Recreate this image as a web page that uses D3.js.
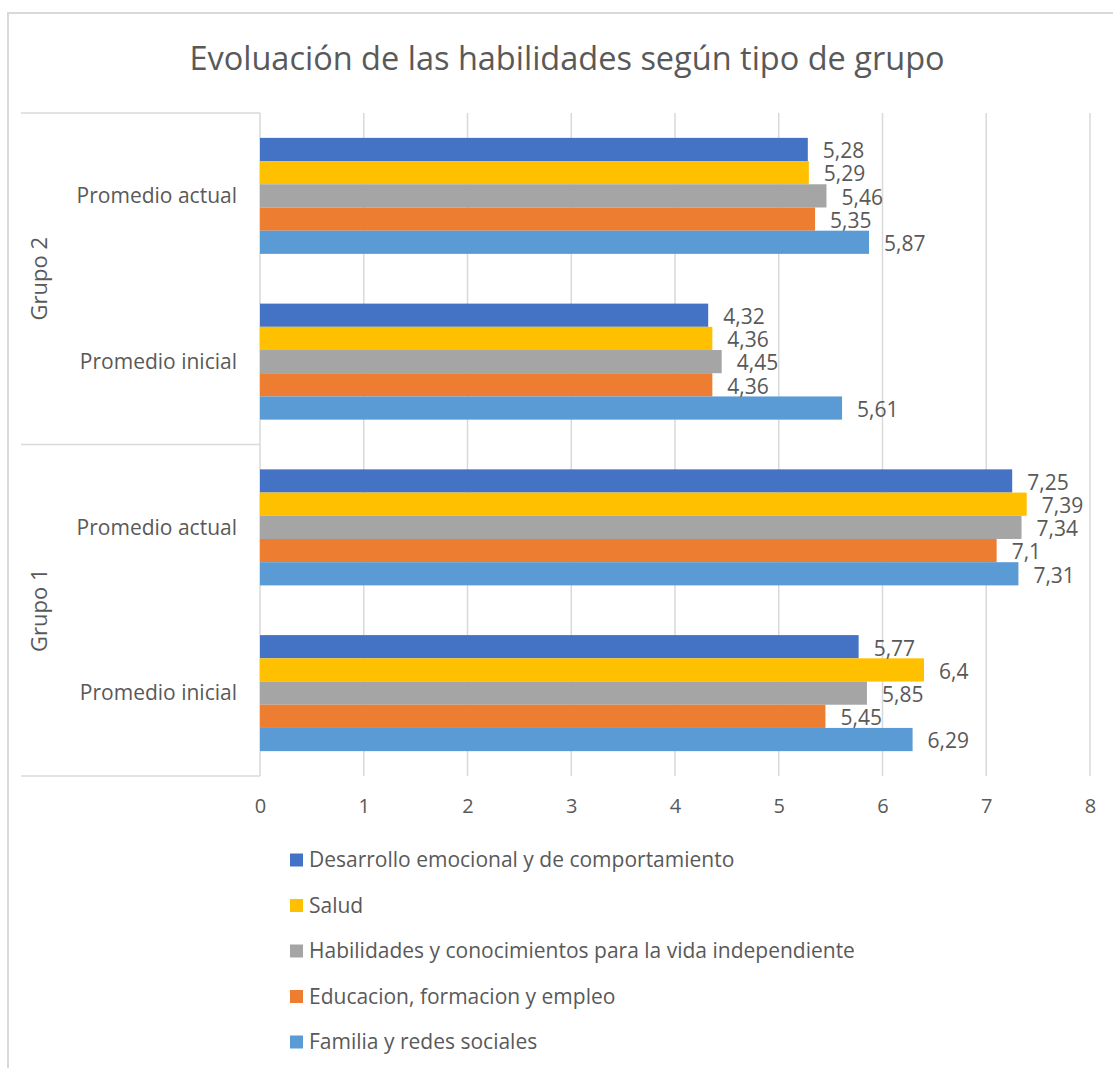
<!DOCTYPE html>
<html>
<head>
<meta charset="utf-8">
<script src="https://cdn.jsdelivr.net/npm/d3@7"></script>
<style>
  body { margin: 0; background: #fff; }
  text { font-family: 'Open Sans', sans-serif; fill: #595959; }
</style>
</head>
<body>
<div id="vis1"></div>
<script>
// chart data, rows read top to bottom
const groups = ['Grupo 2', 'Grupo 1']
const periods = ['Promedio actual', 'Promedio inicial']
const seriesNames = [
  'Desarrollo emocional y de comportamiento',
  'Salud',
  'Habilidades y conocimientos para la vida independiente',
  'Educacion, formacion y empleo',
  'Familia y redes sociales'
]
const seriesColors = ['#4472C4', '#FFC000', '#A5A5A5', '#ED7D31', '#5B9BD5']

// values: G2 actual, G2 inicial, G1 actual, G1 inicial
const desarrollo = [5.28, 4.32, 7.25, 5.77]
const salud = [5.29, 4.36, 7.39, 6.4]
const habilidades = [5.46, 4.45, 7.34, 5.85]
const educacion = [5.35, 4.36, 7.1, 5.45]
const familia = [5.87, 5.61, 7.31, 6.29]
const xTicks = [0, 1, 2, 3, 4, 5, 6, 7, 8]

const seriesValues = [desarrollo, salud, habilidades, educacion, familia]

let width = 1113,
  height = 1068
let plot = { top: 113, bottom: 776, left: 260, right: 1090 }

let svg = d3.select('#vis1')
  .append('svg')
  .attr('width', width)
  .attr('height', height)
  .style('background-color', '#fff')

// outer chart border (only top and left show in the crop)
svg.append('path')
  .attr('d', 'M8,' + height + 'V13H' + width)
  .attr('fill', 'none')
  .attr('stroke', '#d9d9d9')
  .attr('stroke-width', 2)

svg.append('text')
  .attr('x', 567)
  .attr('y', 70)
  .attr('text-anchor', 'middle')
  .style('font-size', '32.5px')
  .text('Evoluación de las habilidades según tipo de grupo')

let rows = groups.flatMap(g => periods.map(p => g + '|' + p))

let x = d3.scaleLinear().domain([0, 8]).range([plot.left, plot.right])
let y = d3.scaleBand().domain(rows).range([plot.top, plot.bottom])
  .paddingInner(0.3).paddingOuter(0.15)
let yGroup = d3.scaleBand().domain(groups).range([plot.top, plot.bottom])
let ySub = d3.scaleBand().domain(seriesNames).range([0, y.bandwidth()])

// gridlines
svg.append('g').selectAll('line')
  .data(xTicks)
  .join('line')
  .attr('x1', d => x(d)).attr('x2', d => x(d))
  .attr('y1', plot.top).attr('y2', plot.bottom)
  .attr('stroke', '#d9d9d9')
  .attr('stroke-width', 1.5)

// category axis separators
let seps = [plot.top].concat(groups.map(g => yGroup(g) + yGroup.bandwidth()))
svg.append('g').selectAll('line')
  .data(seps)
  .join('line')
  .attr('x1', 21).attr('x2', plot.left)
  .attr('y1', d => d).attr('y2', d => d)
  .attr('stroke', '#d9d9d9')
  .attr('stroke-width', 1.5)

// x axis labels
let xAxis = svg.append('g')
  .attr('transform', 'translate(0,' + plot.bottom + ')')
  .call(d3.axisBottom(x).tickValues(xTicks).tickSize(0).tickPadding(23))
xAxis.select('.domain').remove()
xAxis.selectAll('text')
  .style('font-size', '20px')
  .style('font-family', "'Open Sans', sans-serif")
  .attr('fill', '#595959')

// period labels
svg.append('g').selectAll('text')
  .data(rows)
  .join('text')
  .attr('x', 237)
  .attr('y', d => y(d) + y.bandwidth() / 2)
  .attr('dy', '0.35em')
  .attr('text-anchor', 'end')
  .style('font-size', '21px')
  .text(d => d.split('|')[1])

// group labels
svg.append('g').selectAll('text')
  .data(groups)
  .join('text')
  .attr('transform', d => 'translate(39,' + (yGroup(d) + yGroup.bandwidth() / 2) + ') rotate(-90)')
  .attr('dy', '0.35em')
  .attr('text-anchor', 'middle')
  .style('font-size', '22px')
  .text(d => d)

// bars
let barData = []
seriesNames.forEach((s, i) => {
  rows.forEach((r, j) => {
    barData.push({ row: r, series: s, color: seriesColors[i], value: seriesValues[i][j] })
  })
})

svg.append('g').selectAll('rect')
  .data(barData)
  .join('rect')
  .attr('x', x(0))
  .attr('y', d => y(d.row) + ySub(d.series))
  .attr('width', d => x(d.value) - x(0))
  .attr('height', ySub.bandwidth())
  .attr('fill', d => d.color)

svg.append('g').selectAll('text')
  .data(barData)
  .join('text')
  .attr('x', d => x(d.value) + 15)
  .attr('y', d => y(d.row) + ySub(d.series) + ySub.bandwidth() / 2)
  .attr('dy', '0.42em')
  .style('font-size', '21px')
  .text(d => String(d.value).replace('.', ','))

// legend
let legend = svg.append('g').selectAll('g')
  .data(seriesNames)
  .join('g')
  .attr('transform', (d, i) => 'translate(290,' + (860 + i * 45.5) + ')')

legend.append('rect')
  .attr('x', 0).attr('y', -6.5)
  .attr('width', 13).attr('height', 13)
  .attr('fill', (d, i) => seriesColors[i])

legend.append('text')
  .attr('x', 19)
  .attr('dy', '0.35em')
  .style('font-size', '21px')
  .text(d => d)
</script>
</body>
</html>
